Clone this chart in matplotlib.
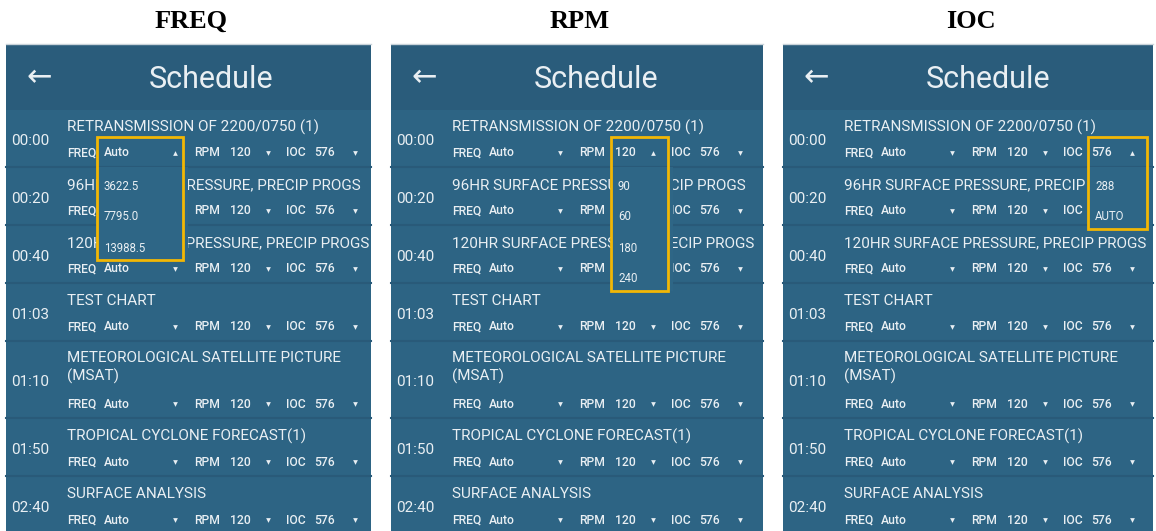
import matplotlib
matplotlib.use('Agg')
import matplotlib.pyplot as plt
from matplotlib.patches import Rectangle

# screen content
headings = ['FREQ', 'RPM', 'IOC']
times = ['00:00', '00:20', '00:40', '01:03', '01:10', '01:50', '02:40']
titles = ['RETRANSMISSION OF 2200/0750 (1)',
          '96HR SURFACE PRESSURE, PRECIP PROGS',
          '120HR SURFACE PRESSURE, PRECIP PROGS',
          'TEST CHART',
          'METEOROLOGICAL SATELLITE PICTURE\n(MSAT)',
          'TROPICAL CYCLONE FORECAST(1)',
          'SURFACE ANALYSIS']
row_heights = [58, 58, 58, 58, 77, 58, 58]
freq_default, rpm_default, ioc_default = 'Auto', '120', '576'
freq_options = ['3622.5', '7795.0', '13988.5']
rpm_options = ['90', '60', '180', '240']
ioc_options = ['288', 'AUTO']

# layout (pixels)
W, H = 1156, 531
panel_left = [6, 391, 783]
panel_width = [365, 372, 370]
panel_top = 44
header_bottom = 110

header_col = '#2a5c7b'
body_col = '#2d6484'
gap_col = '#295a79'
menu_col = '#2e6686'
txt_col = '#e9eff3'
box_col = '#f2b705'
ui_font = 'Roboto'

fig = plt.figure(figsize=(W / 100, H / 100), dpi=100)
ax = fig.add_axes([0, 0, 1, 1])
ax.set_xlim(0, W)
ax.set_ylim(H, 0)
ax.axis('off')

# control columns, relative to panel left: label, value, arrow
ctrl_cols = [(61, 98, 169), (188, 224, 262), (280, 308, 349)]
ctrl_labels = ['FREQ', 'RPM', 'IOC']
ctrl_values = [freq_default, rpm_default, ioc_default]
all_options = [freq_options, rpm_options, ioc_options]
# open menu box edges, relative to panel left
menu_box = [(91, 177), (220, 277), (305, 364)]

for p, name in enumerate(headings):
    x0 = panel_left[p]
    pw = panel_width[p]
    ax.text(x0 + pw / 2 + 3, 21, name, ha='center', va='center',
            fontsize=19, fontweight='bold', family='Liberation Serif')

    clip = Rectangle((x0, panel_top), pw, H - panel_top, transform=ax.transData)
    ax.add_patch(Rectangle((x0, panel_top), pw, H - panel_top,
                           facecolor=body_col, edgecolor='none', zorder=0))
    ax.add_patch(Rectangle((x0, panel_top), pw, header_bottom - panel_top,
                           facecolor=header_col, edgecolor='none', zorder=1))
    ax.plot([x0, x0 + pw], [panel_top, panel_top], color='#c9d3da', lw=1, zorder=2)
    ax.text(x0 + 33, 78, '\u2190', ha='center', va='center', fontsize=22,
            color=txt_col, family='DejaVu Sans', zorder=3)
    ax.text(x0 + 205, 79, 'Schedule', ha='center', va='center', fontsize=22,
            color=txt_col, family=ui_font, zorder=3)

    # open dropdown geometry for this panel's parameter
    bl = x0 + menu_box[p][0]
    br = x0 + menu_box[p][1]
    opts = all_options[p]
    cy0 = header_bottom + row_heights[0] - 15
    opt_y = [cy0 + 33 + 31 * k for k in range(len(opts))]
    bb = opt_y[-1] + 12

    top = header_bottom
    for i, (t, title) in enumerate(zip(times, titles)):
        bottom = top + row_heights[i]
        ax.plot([x0, x0 + pw], [bottom - 1, bottom - 1], color=gap_col, lw=1.5, zorder=1)
        ty = top + 17
        cy = bottom - 15
        ax.text(x0 + 5, (ty + cy) / 2 + 1, t, ha='left', va='center', fontsize=11,
                color=txt_col, family=ui_font, zorder=3)
        if '\n' in title:
            tt = ax.text(x0 + 61, ty - 8, title, ha='left', va='top', fontsize=11,
                         color=txt_col, family=ui_font, zorder=3, linespacing=1.3)
        else:
            tt = ax.text(x0 + 61, ty, title, ha='left', va='center', fontsize=11,
                         color=txt_col, family=ui_font, zorder=3)
        tt.set_clip_path(clip)
        # rows under the open menu hide the value of that column
        covered = i > 0 and cy < bb
        for c, (lx, vx, axx) in enumerate(ctrl_cols):
            ax.text(x0 + lx, cy, ctrl_labels[c], ha='left', va='center', fontsize=8.7,
                    color=txt_col, family=ui_font, fontweight='medium', zorder=3)
            if covered and c == p:
                continue
            ax.text(x0 + vx, cy, ctrl_values[c], ha='left', va='center', fontsize=8.7,
                    color=txt_col, family=ui_font, fontweight='medium', zorder=3)
            opened = (i == 0 and c == p)
            ax.plot(x0 + axx, cy, marker='^' if opened else 'v', ms=3.4,
                    color=txt_col, mec='none', zorder=3)
        top = bottom

    ax.add_patch(Rectangle((bl, cy0 + 14), br - bl + 5, bb - cy0 - 14,
                           facecolor=menu_col, edgecolor='none', zorder=4))
    for k, o in enumerate(opts):
        ax.text(bl + 7, opt_y[k], o, ha='left', va='center', fontsize=8.3,
                color=txt_col, family=ui_font, zorder=5)
    ax.add_patch(Rectangle((bl, cy0 - 16), br - bl, bb - cy0 + 16,
                           facecolor='none', edgecolor=box_col, lw=2, zorder=6))

fig.savefig('out.png', dpi=100)
